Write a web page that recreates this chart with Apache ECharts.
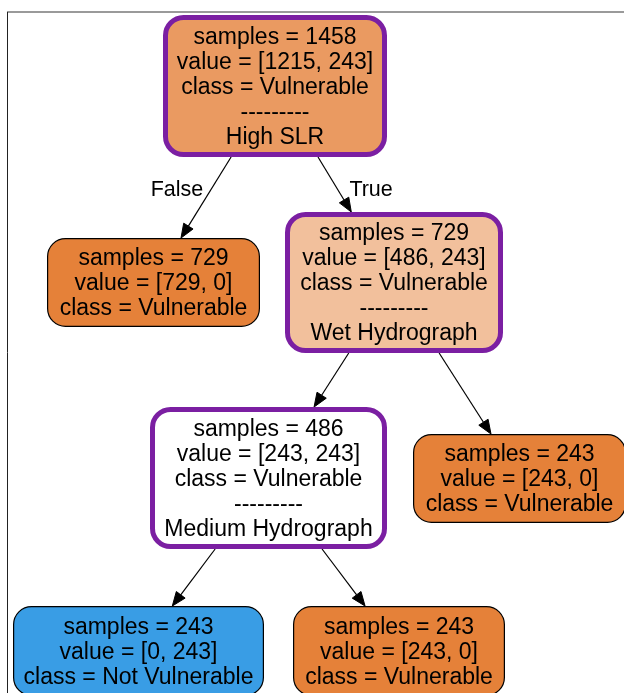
<!DOCTYPE html>
<html>
<head>
<meta charset="utf-8">
<title>Decision tree</title>
<script src="https://cdn.jsdelivr.net/npm/echarts@6/dist/echarts.min.js"></script>
<style>
  html, body { margin: 0; padding: 0; background: #fff; }
  #chart { width: 624px; height: 693px; }
</style>
</head>
<body>
<div id="chart"></div>
<script>
// tree content, one entry per node (graphviz order)
const nodeSamples = [1458, 729, 729, 486, 243, 243, 243];
const nodeValues = [[1215, 243], [729, 0], [486, 243], [243, 243], [243, 0], [0, 243], [243, 0]];
const classNames = ['Vulnerable', 'Not Vulnerable'];
const nodeSplit = ['High SLR', null, 'Wet Hydrograph', 'Medium Hydrograph', null, null, null];
// parent -> child, label drawn beside the edge
const edgeList = [[0, 1, 'False'], [0, 2, 'True'], [2, 3, ''], [2, 4, ''], [3, 5, ''], [3, 6, '']];

// graphviz layout: outer box of each node [x0, y0, x1, y1] in picture units
const nodeBox = [
  [163, 15, 387, 157],
  [47, 238, 260, 327],
  [285, 212, 503, 353],
  [150, 407, 387, 549],
  [413, 434, 626, 523],
  [13, 606, 264, 696],
  [293, 606, 505, 696],
];

const classRgb = [[229, 129, 57], [57, 157, 229]];
const PURPLE = '#7b1fa2';
const FONT = '"Liberation Sans", Arial, sans-serif';

const argmax = (v) => (v[0] >= v[1] ? 0 : 1);

// same shading rule as sklearn's export_graphviz
function nodeFill(i) {
  const v = nodeValues[i];
  const total = v[0] + v[1];
  const p = v.map((x) => x / total).sort((a, b) => b - a);
  const alpha = (p[0] - p[1]) / (1 - p[1]);
  const rgb = classRgb[argmax(v)].map((c) => Math.round(alpha * c + (1 - alpha) * 255));
  return `rgb(${rgb.join(',')})`;
}

function nodeText(i) {
  const lines = [
    `samples = ${nodeSamples[i]}`,
    `value = [${nodeValues[i].join(', ')}]`,
    `class = ${classNames[argmax(nodeValues[i])]}`,
  ];
  if (nodeSplit[i]) {
    lines.push('---------', nodeSplit[i]);
  }
  return lines.join('\n');
}

const centre = (b) => [(b[0] + b[2]) / 2, (b[1] + b[3]) / 2];

// where the centre-to-centre line leaves a box
function clip(c, b, dx, dy) {
  const hw = (b[2] - b[0]) / 2;
  const hh = (b[3] - b[1]) / 2;
  const t = Math.min(dx ? hw / Math.abs(dx) : Infinity, dy ? hh / Math.abs(dy) : Infinity);
  return [c[0] + dx * t, c[1] + dy * t];
}

function renderNode(params, api) {
  const i = params.dataIndex;
  const tl = api.coord([api.value(0), api.value(1)]);
  const br = api.coord([api.value(2), api.value(3)]);
  const internal = nodeSplit[i] !== null;
  const lw = internal ? 5 : 1.2;
  return {
    type: 'group',
    children: [
      {
        type: 'rect',
        shape: {
          x: tl[0] + lw / 2,
          y: tl[1] + lw / 2,
          width: br[0] - tl[0] - lw,
          height: br[1] - tl[1] - lw,
          r: 18,
        },
        style: { fill: nodeFill(i), stroke: internal ? PURPLE : '#000', lineWidth: lw },
      },
      {
        type: 'text',
        style: {
          text: nodeText(i),
          x: (tl[0] + br[0]) / 2,
          y: (tl[1] + br[1]) / 2 + 1.5,
          align: 'center',
          verticalAlign: 'middle',
          fontSize: 23,
          fontFamily: FONT,
          lineHeight: 25,
          fill: '#000',
        },
      },
    ],
  };
}

function renderEdge(params, api) {
  const e = edgeList[params.dataIndex];
  const pb = nodeBox[e[0]];
  const cb = nodeBox[e[1]];
  const pc = centre(pb);
  const cc = centre(cb);
  const dx = cc[0] - pc[0];
  const dy = cc[1] - pc[1];
  const start = api.coord(clip(pc, pb, dx, dy));
  const tip = api.coord(clip(cc, cb, -dx, -dy));

  const len = Math.hypot(tip[0] - start[0], tip[1] - start[1]);
  const ux = (tip[0] - start[0]) / len;
  const uy = (tip[1] - start[1]) / len;
  const headLen = 14;
  const headHalf = 5.5;
  const base = [tip[0] - ux * headLen, tip[1] - uy * headLen];

  const children = [
    {
      type: 'line',
      shape: { x1: start[0], y1: start[1], x2: base[0], y2: base[1] },
      style: { stroke: '#000', lineWidth: 1.2 },
    },
    {
      type: 'polygon',
      shape: {
        points: [
          tip,
          [base[0] - uy * headHalf, base[1] + ux * headHalf],
          [base[0] + uy * headHalf, base[1] - ux * headHalf],
        ],
      },
      style: { fill: '#000', stroke: '#000', lineWidth: 1 },
    },
  ];

  if (e[2]) {
    const ly = start[1] + 32;
    const lx = start[0] + (ux / uy) * (ly - start[1]);
    const left = dx < 0;
    children.push({
      type: 'text',
      style: {
        text: e[2],
        x: left ? lx - 8 : lx + 12,
        y: ly + 1,
        align: left ? 'right' : 'left',
        verticalAlign: 'middle',
        fontSize: 21.5,
        fontFamily: FONT,
        fill: '#000',
      },
    });
  }
  return { type: 'group', children };
}

const chart = echarts.init(document.getElementById('chart'), null, { renderer: 'canvas' });

chart.setOption({
  animation: false,
  backgroundColor: '#fff',
  grid: { left: 0, right: 0, top: 0, bottom: 0 },
  xAxis: { type: 'value', min: 0, max: 624, show: false },
  yAxis: { type: 'value', min: 0, max: 693, inverse: true, show: false },
  graphic: [
    {
      type: 'line',
      shape: { x1: 7, y1: 12, x2: 624, y2: 12 },
      style: { stroke: '#9a9a9a', lineWidth: 2 },
      z: 0,
    },
    {
      type: 'line',
      shape: { x1: 7.5, y1: 12, x2: 7.5, y2: 693 },
      style: { stroke: '#222', lineWidth: 1 },
      z: 0,
    },
  ],
  series: [
    {
      type: 'custom',
      name: 'edges',
      clip: false,
      silent: true,
      renderItem: renderEdge,
      data: edgeList.map((e) => [e[0], e[1]]),
      z: 2,
    },
    {
      type: 'custom',
      name: 'nodes',
      clip: false,
      silent: true,
      renderItem: renderNode,
      data: nodeBox,
      z: 3,
    },
  ],
});
</script>
</body>
</html>
